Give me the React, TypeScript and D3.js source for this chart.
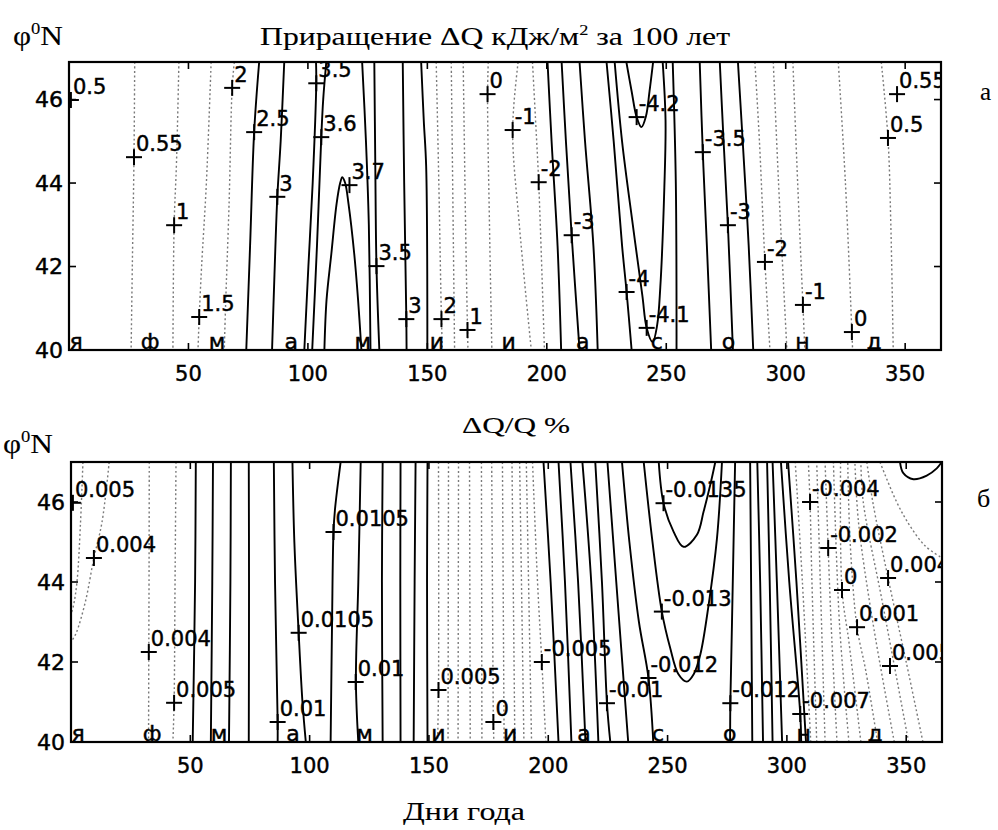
import React from 'react';
import * as d3 from 'd3';

type Pt = [number, number];
type Iso = [number, Pt[]];
type Lab = [string, number, number];

const dayTicks = [50, 100, 150, 200, 250, 300, 350];
const latTicks = [40, 42, 44, 46];
const monthLetters = ['я', 'ф', 'м', 'а', 'м', 'и', 'и', 'а', 'с', 'о', 'н', 'д'];
const monthStarts = [0, 31, 59, 90, 120, 151, 181, 212, 243, 273, 304, 334];

// panel a: increment dQ, kJ/m2 per 100 years  [level, [day, lat]...]
const dqLines: Iso[] = [
  [0.55, [[27.5, 46.9], [27.2, 44.62], [26.5, 42], [26, 40]]],
  [1, [[46, 46.9], [45, 44.5], [44, 42.99], [43.5, 40]]],
  [1.5, [[59.5, 46.9], [57.5, 44], [55.5, 42], [54.5, 40.79], [54, 40]]],
  [2, [[69.2, 46.9], [68.3, 46.28], [67, 43.5], [65.5, 41], [65, 40]]],
  [2.5, [[79.6, 46.9], [77.5, 45.22], [75.8, 42.5], [74.2, 40]]],
  [3, [[90.1, 46.9], [88.6, 45], [87.2, 43.67], [86, 41.8], [85, 40]]],
  [3.5, [[103.4, 46.9], [103.5, 46.39], [102, 44], [100.2, 42], [98.5, 40]]],
  [3.6, [[107.7, 46.9], [106.4, 46], [105.6, 45.1], [103.8, 42.5], [101.8, 40]]],
  [3.7, [[106.9, 40], [107.8, 41.2], [109.8, 42.3], [112, 43.5], [113.5, 44.0], [114.4, 44.14], [115.6, 44.0], [117, 43.5], [119.4, 42.3], [121, 41.2], [122.4, 40]]],
  [3.6, [[122.7, 46.9], [124.3, 45], [125.5, 43], [126.2, 40]]],
  [3.5, [[127.8, 46.9], [128.2, 44.5], [128.7, 42.01], [129.9, 40]]],
  [3, [[139.7, 46.9], [140.3, 44], [141.2, 40.74], [141.3, 40]]],
  [2.5, [[147.4, 46.9], [148.5, 45.5], [149.5, 44.4], [150, 40]]],
  [2, [[153.7, 46.9], [154.8, 44], [155.9, 40.74], [156.3, 40]]],
  [1.5, [[160, 46.9], [160.8, 43], [161.4, 40]]],
  [1, [[165, 46.9], [166, 43], [166.8, 40.48], [167, 40]]],
  [0, [[175.5, 46.9], [175.2, 46.13], [176, 43], [177, 40]]],
  [-1, [[188, 46.9], [185.7, 45.27], [188.5, 43], [193.5, 40]]],
  [-2, [[194, 46.9], [195.3, 45.5], [196.6, 44.02], [199, 40]]],
  [-2.5, [[200.3, 46.9], [202, 45], [204.5, 42.5], [206, 40]]],
  [-3, [[206.2, 46.9], [208, 45], [210.4, 42.75], [213.7, 40]]],
  [-3.5, [[213.7, 46.9], [216, 45], [219.5, 42.5], [221.3, 40]]],
  [-4, [[225, 46.9], [228, 45], [231.5, 42.5], [233.4, 41.39], [235.5, 40]]],
  [-4.1, [[228.4, 46.9], [231.5, 45], [236, 43], [240, 41.3], [241.8, 40.53], [244.3, 40.19], [246.2, 40.6], [247.5, 41.5], [249.2, 43.9], [249.7, 45.5], [248.5, 46.9]]],
  [-4.2, [[233.3, 46.9], [235.5, 46.2], [237.6, 45.58], [239.6, 45.34], [241.5, 45.6], [243, 46.2], [244.5, 46.9]]],
  [-4, [[252.7, 46.9], [254, 44], [254.3, 40]]],
  [-3.5, [[264, 46.9], [265.3, 44.74], [267, 42.5], [268.8, 40]]],
  [-3, [[272.4, 46.9], [274, 45], [275.8, 42.99], [277.9, 40]]],
  [-2.5, [[280, 46.9], [282, 45], [284.5, 42.5], [286.4, 40]]],
  [-2, [[287.1, 46.9], [289, 45], [291.3, 42.11], [293.4, 40]]],
  [-1.5, [[294.8, 46.9], [297, 44], [300.5, 40]]],
  [-1, [[303, 46.9], [305, 44], [307.2, 41.08], [308, 40]]],
  [0, [[322, 46.9], [325, 44], [327.7, 40.43], [328, 40]]],
  [0.5, [[340, 46.9], [342.8, 45.08], [344, 43], [345, 40]]],
];

const dqLabels: Lab[] = [
  ['0.5', 0.8, 45.99], ['0.55', 27.2, 44.62], ['1', 44, 42.99], ['1.5', 54.5, 40.79],
  ['2', 68.3, 46.28], ['2.5', 77.5, 45.22], ['3', 87.2, 43.67], ['3.5', 103.5, 46.39],
  ['3.6', 105.6, 45.1], ['3.7', 117.4, 43.95], ['3.5', 128.7, 42.01], ['3', 141.2, 40.74],
  ['2', 155.9, 40.74], ['1', 166.8, 40.48], ['0', 175.2, 46.13], ['-1', 185.7, 45.27],
  ['-2', 196.6, 44.02], ['-3', 210.4, 42.75], ['-4', 233.4, 41.39], ['-4.2', 237.6, 45.58],
  ['-4.1', 241.8, 40.53], ['-3.5', 265.3, 44.74], ['-3', 275.8, 42.99], ['-2', 291.3, 42.11],
  ['-1', 307.2, 41.08], ['0', 327.7, 40.43], ['0.5', 342.8, 45.08], ['0.55', 346.6, 46.13],
];

// panel б: dQ/Q, %
const relLines: Iso[] = [
  [0.005, [[5, 47], [4, 45.5], [2.5, 44], [1, 43.4], [0, 43.2]]],
  [0.004, [[16, 47], [13, 45.5], [9.6, 44.6], [6, 43.5], [2, 42.7], [0, 42.5]]],
  [0.004, [[32.8, 47], [32.7, 44], [32.6, 42.25], [32.5, 40]]],
  [0.005, [[44, 47], [43.6, 44], [43.2, 40.98], [42.7, 40]]],
  [0.006, [[52.3, 47], [52, 44], [51, 40]]],
  [0.007, [[59.5, 47], [59.2, 44], [58.6, 40]]],
  [0.008, [[67, 47], [66.8, 44], [66.2, 40]]],
  [0.009, [[74.5, 47], [74.6, 44], [74.5, 40]]],
  [0.01, [[85, 47], [85.5, 44], [86.6, 40.5], [86.6, 40]]],
  [0.0105, [[92.8, 47], [93.6, 45], [95.4, 42.73], [97, 41], [98.4, 40]]],
  [0.0105, [[113, 47], [110.6, 45.8], [110, 45.25], [109.4, 43], [108.8, 40]]],
  [0.01, [[121.4, 47], [120.4, 44], [119.4, 41.5], [120.4, 40]]],
  [0.009, [[130.6, 47], [130.3, 44], [130.6, 40]]],
  [0.008, [[138.1, 47], [138, 44], [138.1, 40]]],
  [0.007, [[144.4, 47], [144, 44], [143.6, 40]]],
  [0.006, [[149.4, 47], [149.2, 44], [149.4, 40]]],
  [0.005, [[154, 47], [154, 41.3], [153.6, 40]]],
  [0.004, [[158.2, 47], [158, 40]]],
  [0.003, [[162.4, 47], [162.2, 40]]],
  [0.002, [[167, 47], [167.3, 40]]],
  [0.001, [[172, 47], [172.2, 40]]],
  [0, [[176.3, 47], [176.7, 43], [177, 40.5], [177.2, 40]]],
  [-0.001, [[180.8, 47], [181.5, 40]]],
  [-0.002, [[184.8, 47], [186, 40]]],
  [-0.003, [[188, 47], [189.8, 40]]],
  [-0.004, [[190.8, 47], [193, 40]]],
  [-0.005, [[193.4, 47], [195.5, 44], [197.3, 42], [199, 40]]],
  [-0.006, [[198, 47], [201, 44], [204.3, 40]]],
  [-0.007, [[204.3, 47], [207, 44], [209.7, 40]]],
  [-0.008, [[209.3, 47], [212.5, 44], [215.6, 40]]],
  [-0.009, [[214.3, 47], [218, 44], [221, 40]]],
  [-0.01, [[219.7, 47], [222.5, 44], [224.6, 40.97], [226, 40]]],
  [-0.011, [[224.8, 47], [228.5, 44], [233.5, 40]]],
  [-0.012, [[230.9, 47], [234, 45], [238, 43], [242, 41.6], [244, 40]]],
  [-0.013, [[240, 47], [243.5, 45.09], [247.6, 43.26], [251.1, 42.35], [254.5, 41.7], [258.1, 41.51], [261, 41.7], [263.7, 42.18], [267.2, 43.43], [270.7, 45.09], [272.8, 47]]],
  [-0.0135, [[246.3, 47], [248.3, 45.97], [252.5, 45.26], [256.7, 44.88], [262.3, 45.18], [265.1, 45.76], [267.9, 46.43], [270, 47]]],
  [-0.012, [[276.2, 40], [276.3, 40.97], [277, 43], [278.3, 47]]],
  [-0.011, [[285.5, 40], [285, 44], [284.6, 47]]],
  [-0.01, [[290, 40], [288.8, 44], [287.6, 47]]],
  [-0.009, [[294, 40], [292.8, 44], [291.7, 47]]],
  [-0.008, [[298, 40], [295.8, 44], [294, 47]]],
  [-0.007, [[306, 40], [305.6, 40.7], [301, 44], [297.5, 47]]],
  [-0.006, [[308, 40], [304, 44], [300.5, 47]]],
  [-0.005, [[310, 40], [306.5, 44], [303.5, 47]]],
  [-0.004, [[312.5, 40], [310.5, 44], [309.7, 46], [309, 47]]],
  [-0.003, [[316, 40], [314, 44], [312.5, 47]]],
  [-0.002, [[321, 40], [318.5, 43], [317.3, 44.85], [316, 47]]],
  [-0.001, [[326, 40], [322, 43], [319.5, 47]]],
  [0, [[331, 40], [326, 42.5], [323.1, 43.8], [322.5, 47]]],
  [0.001, [[338, 40], [333, 41.8], [329.4, 42.87], [326.5, 45], [325.5, 47]]],
  [0.002, [[345, 40], [336, 43], [330, 45.5], [328.5, 47]]],
  [0.003, [[351, 40], [340, 43.5], [332, 46], [331, 47]]],
  [0.004, [[357, 40], [350, 42], [342.4, 44.1], [336, 46], [333.5, 47]]],
  [0.005, [[339, 47], [346, 46], [351.6, 45.4], [358, 44.9], [365, 44.6]]],
  [0.006, [[347.4, 47], [348.8, 46.72], [353, 46.57], [358.6, 46.66], [362.8, 46.84], [364.9, 47]]],
];

const relLabels: Lab[] = [
  ['0.005', 0.8, 45.98], ['0.004', 9.6, 44.6], ['0.004', 32.6, 42.25], ['0.005', 43.2, 40.98],
  ['0.01', 86.6, 40.5], ['0.0105', 95.4, 42.73], ['0.0105', 110, 45.25], ['0.01', 119.3, 41.5],
  ['0.005', 154, 41.3], ['0', 177, 40.5], ['-0.005', 197.3, 42.0], ['-0.01', 224.6, 40.97],
  ['-0.012', 242, 41.6], ['-0.0135', 248.3, 45.97], ['-0.013', 247.6, 43.26], ['-0.012', 276.3, 40.97],
  ['-0.007', 305.6, 40.7], ['-0.004', 309.7, 46], ['-0.002', 317.3, 44.85], ['0', 323.1, 43.8],
  ['0.001', 329.4, 42.87], ['0.004', 342.4, 44.1], ['0.005', 343.2, 41.9],
];

const SANS = '"DejaVu Sans", sans-serif';
const SERIF = '"Liberation Serif", "Times New Roman", serif';

interface PanelProps {
  id: string;
  left: number;
  right: number;
  top: number;
  bottom: number;
  latMax: number;
  lines: Iso[];
  labels: Lab[];
  dotLimit: number;
}

const Panel = ({ id, left, right, top, bottom, latMax, lines, labels, dotLimit }: PanelProps) => {
  const x = d3.scaleLinear().domain([0, 365]).range([left, right]);
  const y = d3.scaleLinear().domain([40, latMax]).range([bottom, top]);
  const line = d3.line<Pt>()
    .x(d => x(d[0]))
    .y(d => y(d[1]))
    .curve(d3.curveCatmullRom.alpha(0.5));
  const tk = 7;
  // scanned print looks heavier, so the sans text gets a thin outline
  const ink = { stroke: '#000', strokeWidth: 0.45 };

  return (
    <g>
      <defs>
        <clipPath id={id}>
          <rect x={left} y={top} width={right - left} height={bottom - top} />
        </clipPath>
      </defs>
      <g clipPath={`url(#${id})`}>
        {lines.map(([v, pts], i) => {
          const dotted = Math.abs(v) <= dotLimit + 1e-9;
          return (
            <path key={i} d={line(pts) || ''} fill="none"
              stroke={dotted ? '#7a7a7a' : '#000'}
              strokeWidth={dotted ? 1.4 : 1.9}
              strokeDasharray={dotted ? '2 2.5' : undefined} />
          );
        })}
        {labels.map(([t, d, l], i) => {
          const px = x(d), py = y(l);
          return (
            <g key={i}>
              <line x1={px - 8} x2={px + 8} y1={py} y2={py} stroke="#000" strokeWidth={2} />
              <line x1={px} x2={px} y1={py - 8} y2={py + 8} stroke="#000" strokeWidth={2} />
              <text x={px + 2} y={py - 6} fontFamily={SANS} fontSize={21} fill="#000" {...ink}>{t}</text>
            </g>
          );
        })}
        {monthLetters.map((m, i) => (
          <text key={i} x={x(monthStarts[i] + 3)} y={bottom - 1} textAnchor="middle"
            fontFamily={SANS} fontSize={22} fill="#000" {...ink}>{m}</text>
        ))}
      </g>
      <rect x={left} y={top} width={right - left} height={bottom - top}
        fill="none" stroke="#000" strokeWidth={2.2} />
      {dayTicks.map(t => (
        <g key={t}>
          <line x1={x(t)} x2={x(t)} y1={bottom} y2={bottom - tk} stroke="#000" strokeWidth={1.6} />
          <line x1={x(t)} x2={x(t)} y1={top} y2={top + tk} stroke="#000" strokeWidth={1.6} />
          <text x={x(t)} y={bottom + 31} textAnchor="middle" fontFamily={SANS} fontSize={21} {...ink}>{t}</text>
        </g>
      ))}
      {latTicks.map(t => (
        <g key={t}>
          <line x1={left} x2={left + tk} y1={y(t)} y2={y(t)} stroke="#000" strokeWidth={1.6} />
          <line x1={right} x2={right - tk} y1={y(t)} y2={y(t)} stroke="#000" strokeWidth={1.6} />
          <text x={left - 6} y={y(t)} textAnchor="end" dominantBaseline="central"
            fontFamily={SANS} fontSize={22} {...ink}>{t}</text>
        </g>
      ))}
    </g>
  );
};

const App = () => {
  const serifInk = { stroke: '#000', strokeWidth: 0.1 };
  return (
    <svg width={998} height={830} style={{ position: 'absolute', left: 0, top: 0, background: '#fff' }}>
      <rect x={0} y={0} width={998} height={830} fill="#fff" />
      <text x={13} y={45} fontFamily={SERIF} fontSize={27} textLength={50} lengthAdjust="spacingAndGlyphs" {...serifInk}>
        φ<tspan fontSize={16} dy={-11}>0</tspan><tspan dy={11}>N</tspan>
      </text>
      <text x={260} y={45} fontFamily={SERIF} fontSize={26} textLength={470} lengthAdjust="spacingAndGlyphs" {...serifInk}>
        Приращение ΔQ кДж/м<tspan fontSize={15} dy={-10}>2</tspan><tspan dy={10}> за 100 лет</tspan>
      </text>
      <text x={980} y={100} fontFamily={SERIF} fontSize={25} {...serifInk}>а</text>
      <Panel id="clipA" left={69} right={941} top={62} bottom={350} latMax={46.9}
        lines={dqLines} labels={dqLabels} dotLimit={2} />

      <text x={462} y={433} fontFamily={SERIF} fontSize={24} textLength={108} lengthAdjust="spacingAndGlyphs" {...serifInk}>ΔQ/Q %</text>
      <text x={3} y={453} fontFamily={SERIF} fontSize={27} textLength={50} lengthAdjust="spacingAndGlyphs" {...serifInk}>
        φ<tspan fontSize={16} dy={-11}>0</tspan><tspan dy={11}>N</tspan>
      </text>
      <text x={977} y={507} fontFamily={SERIF} fontSize={26} {...serifInk}>б</text>
      <Panel id="clipB" left={71} right={942} top={462} bottom={742} latMax={47}
        lines={relLines} labels={relLabels} dotLimit={0.005} />

      <text x={403} y={820} fontFamily={SERIF} fontSize={25} textLength={122} lengthAdjust="spacingAndGlyphs" {...serifInk}>Дни года</text>
    </svg>
  );
};

export default App;
